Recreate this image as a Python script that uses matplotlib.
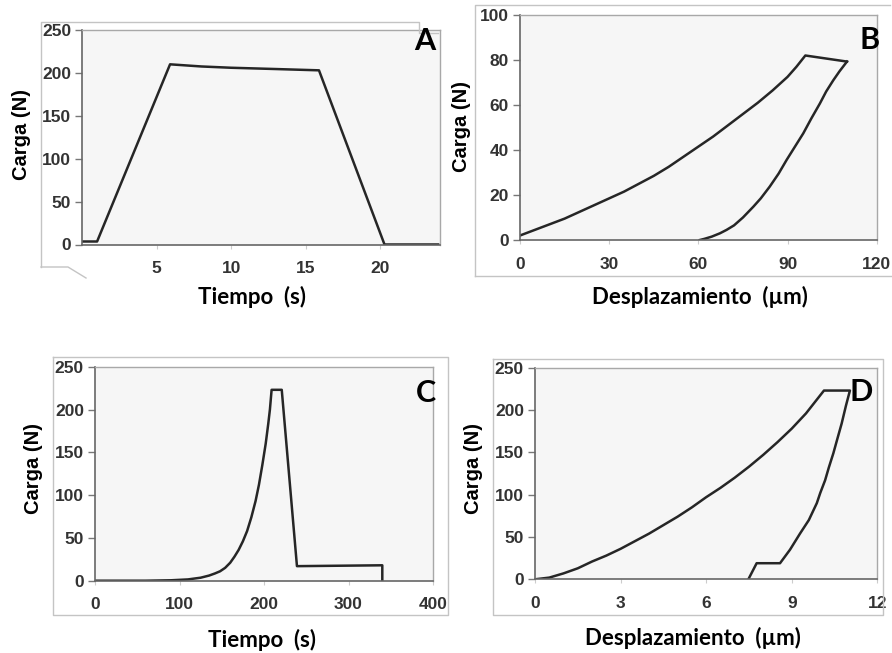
import matplotlib
matplotlib.use("Agg")
import matplotlib.pyplot as plt
from matplotlib.lines import Line2D
import numpy as np

# ---------------- data ----------------
# Panel A: load vs time
a_time = [0, 1.0, 5.9, 8.0, 10.0, 13.0, 15.9, 20.3, 23.9]
a_load = [3.5, 3.5, 210, 207.5, 206, 204.5, 203, 0, 0]
a_xticks = [5, 10, 15, 20]
a_yticks = [0, 50, 100, 150, 200, 250]

# Panel B: load vs displacement (loading / unloading)
b_load_disp = [0, 5, 10, 15, 20, 25, 30, 35, 40, 45, 50, 55, 60, 65, 70, 75, 80, 85, 90, 93, 96]
b_load_force = [2, 4.5, 7, 9.5, 12.5, 15.5, 18.5, 21.5, 25, 28.5, 32.5, 37, 41.5, 46, 51, 56, 61,
                66.5, 72.5, 77, 82]
b_unload_disp = [110, 107.5, 105.4, 103, 100.9, 98, 95.3, 92.5, 89.7, 87, 84, 81, 78.5, 75, 72,
                 69.5, 67.3, 64.5, 62, 60.5]
b_unload_force = [79.3, 75, 71, 66, 60.7, 54, 47.4, 41.5, 35.6, 29.5, 23.7, 18.5, 14.8, 10, 6.5,
                  4.5, 3, 1.5, 0.5, 0]
b_xticks = [0, 30, 60, 90, 120]
b_yticks = [0, 20, 40, 60, 80, 100]

# Panel C: load vs time
c_time = [0, 60, 90, 110, 125, 135, 142, 148, 154, 160, 165, 170, 175, 180, 185, 190, 194, 198,
          202, 205, 207, 209, 221, 239, 340, 340]
c_load = [0, 0, 0.5, 1.5, 3.5, 6, 8.5, 11, 15, 21, 28, 36, 46, 58, 74, 93, 112, 135,
          160, 183, 200, 223, 223, 17, 18, 0]
c_xticks = [0, 100, 200, 300, 400]
c_yticks = [0, 50, 100, 150, 200, 250]

# Panel D: load vs displacement
d_load_disp = [0, 0.5, 1, 1.5, 2, 2.5, 3, 3.5, 4, 4.5, 5, 5.5, 6, 6.5, 7, 7.5, 8, 8.5, 9, 9.5, 10.13]
d_load_force = [0, 2, 7, 13, 21, 28, 36, 45, 54, 64, 74, 85, 97, 108, 120, 133, 147, 162, 178,
                196, 223]
d_unload_disp = [11.04, 10.9, 10.75, 10.6, 10.46, 10.3, 10.17, 10.0, 9.88, 9.6, 9.29, 8.94, 8.59,
                 7.77, 7.48]
d_unload_force = [223, 205, 184, 166, 149, 132, 117, 102, 90, 70, 54, 35, 19, 19, 0]
d_xticks = [0, 3, 6, 9, 12]
d_xticklabels = ["0", "3", "6", "9", "12"]
d_yticks = [0, 50, 100, 150, 200, 250]

ylabel = "Carga (N)"
xlabel_t = "Tiempo  (s)"
xlabel_d = "Desplazamiento  (\u00b5m)"

# ---------------- figure ----------------
W, H = 892, 653
fig = plt.figure(figsize=(W / 100, H / 100), dpi=100)
fig.patch.set_facecolor("white")

LINE = "#262626"
TICKC = "#333333"
FRAME = "#c4c4c4"


def box(l, t, r, b):
    return [l / W, 1 - b / H, (r - l) / W, (b - t) / H]


def fpx(x, y):
    return x / W, 1 - y / H


def frame_lines(pts):
    xs = [p[0] / W for p in pts]
    ys = [1 - p[1] / H for p in pts]
    fig.add_artist(Line2D(xs, ys, color=FRAME, lw=1.0, transform=fig.transFigure))


def style(ax, xlim, ylim, xticks, yticks, xticklabels=None):
    ax.set_facecolor("#f6f6f6")
    ax.set_xlim(*xlim)
    ax.set_ylim(*ylim)
    ax.set_xticks(xticks)
    if xticklabels is not None:
        ax.set_xticklabels(xticklabels)
    ax.set_yticks(yticks)
    for s in ["top", "right"]:
        ax.spines[s].set_color("#a8a8a8")
        ax.spines[s].set_linewidth(1.0)
    for s in ["left", "bottom"]:
        ax.spines[s].set_color("#666666")
        ax.spines[s].set_linewidth(1.2)
    ax.tick_params(axis="y", direction="out", length=5, width=1, color="#777777",
                   pad=3, labelsize=12.5, labelcolor=TICKC)
    ax.tick_params(axis="x", direction="out", length=3, width=0.8, color="#cccccc",
                   pad=9, labelsize=12.5, labelcolor=TICKC)
    for lab in ax.get_xticklabels() + ax.get_yticklabels():
        lab.set_fontfamily("Liberation Sans")
        lab.set_fontweight("bold")


def ylab(x, y):
    tx, ty = fpx(x, y)
    fig.text(tx, ty, ylabel, rotation=90, ha="center", va="center",
             fontsize=14.5, fontweight="bold", family="Liberation Sans", color="black")


def xlab(x, y, s):
    tx, ty = fpx(x, y)
    fig.text(tx, ty, s, ha="center", va="center", fontsize=16,
             fontweight="bold", family="Lato", color="black")


def letter(x, y, s):
    tx, ty = fpx(x, y)
    fig.text(tx, ty, s, ha="center", va="center", fontsize=22,
             fontweight="bold", family="Lato", color="black")


# outer frames
frame_lines([(41, 267), (41, 22), (419, 22), (419, 33), (438, 33)])
frame_lines([(41, 267), (68, 267), (86, 278)])
frame_lines([(475, 276), (475, 5), (890, 5)])
frame_lines([(475, 276), (892, 276)])
frame_lines([(52.7, 357), (448, 357), (448, 615), (52.7, 615), (52.7, 357)])
frame_lines([(492.7, 359.3), (883, 359.3), (883, 615), (492.7, 615), (492.7, 359.3)])

LW = 1.8

# Panel A
axA = fig.add_axes(box(82.2, 30, 439.6, 244.5))
axA.plot(a_time, a_load, color=LINE, lw=LW)
style(axA, (0, 24), (0, 250), a_xticks, a_yticks)
ylab(21.7, 135)
xlab(252, 297, xlabel_t)
letter(425, 41, "A")

# Panel B
axB = fig.add_axes(box(520, 15, 876.7, 240))
axB.plot(b_load_disp + [b_unload_disp[0]], b_load_force + [b_unload_force[0]],
         color=LINE, lw=LW)
axB.plot(b_unload_disp, b_unload_force, color=LINE, lw=LW)
style(axB, (0, 120), (0, 100), b_xticks, b_yticks)
ylab(461.7, 127)
xlab(700, 297, xlabel_d)
letter(870, 40, "B")

# Panel C
axC = fig.add_axes(box(95, 366.7, 433, 580.7))
axC.plot(c_time, c_load, color=LINE, lw=LW)
style(axC, (0, 400), (0, 250), c_xticks, c_yticks)
ylab(33.3, 468)
xlab(262, 640, xlabel_t)
letter(426, 393, "C")

# Panel D
axD = fig.add_axes(box(535, 367.7, 877.3, 579.3))
axD.plot(d_load_disp + d_unload_disp, d_load_force + d_unload_force,
         color=LINE, lw=LW)
style(axD, (0, 12), (0, 250), d_xticks, d_yticks, d_xticklabels)
ylab(473.3, 468)
xlab(693, 638, xlabel_d)
letter(861, 392, "D")

fig.savefig("out.png", dpi=100, facecolor="white")
